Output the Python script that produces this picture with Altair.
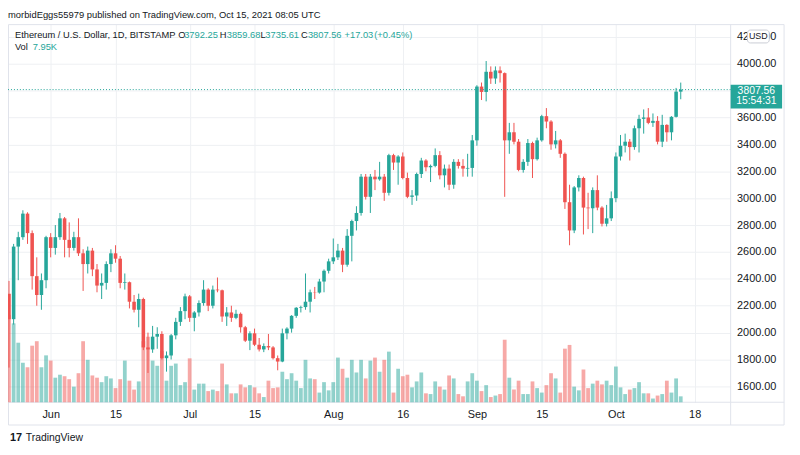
import altair as alt
import pandas as pd

# ---------------- data (ETH/USD daily, Bitstamp) ----------------
dates = pd.date_range("2021-05-23", "2021-10-15", freq="D").strftime("%Y-%m-%d").tolist()

open_may = [2290, 2100, 2640, 2710, 2885, 2740, 2420, 2280, 2390]
high_may = [2385, 2660, 2750, 2910, 2895, 2760, 2560, 2440, 2720]
low_may = [1740, 2060, 2390, 2690, 2660, 2320, 2200, 2170, 2330]
close_may = [2100, 2640, 2710, 2885, 2740, 2420, 2280, 2390, 2710]
vol_may = [117, 106, 80, 53, 47, 76, 82, 47, 63]

open_jun = [2710, 2630, 2710, 2850, 2690, 2630, 2710, 2590, 2510, 2610, 2470, 2350, 2370, 2510, 2590,
            2550, 2370, 2375, 2230, 2170, 2250, 1890, 1875, 1970, 1990, 1810, 1830, 1980, 2080, 2160]
high_jun = [2740, 2800, 2890, 2860, 2820, 2750, 2850, 2620, 2640, 2630, 2510, 2440, 2530, 2620, 2650,
            2570, 2440, 2380, 2280, 2290, 2260, 2000, 2050, 2040, 2010, 1860, 1990, 2110, 2190, 2290]
low_jun = [2560, 2580, 2690, 2560, 2560, 2610, 2570, 2310, 2440, 2420, 2300, 2250, 2320, 2450, 2520,
           2330, 2320, 2180, 2150, 2040, 1870, 1700, 1850, 1880, 1800, 1710, 1800, 1950, 2050, 2100]
close_jun = [2630, 2710, 2850, 2690, 2630, 2710, 2590, 2510, 2610, 2470, 2350, 2370, 2510, 2590, 2550,
             2370, 2375, 2230, 2170, 2250, 1890, 1875, 1970, 1990, 1810, 1830, 1980, 2080, 2160, 2270]
vol_jun = [56, 33, 37, 35, 31, 21, 39, 82, 57, 36, 33, 27, 35, 32, 19,
           31, 56, 29, 17, 28, 82, 88, 56, 49, 69, 29, 49, 52, 23, 27]

open_jul = [2270, 2110, 2150, 2220, 2320, 2200, 2320, 2315, 2120, 2150, 2110, 2140, 2040, 1940, 1995, 1910,
            1875, 1900, 1890, 1810, 1785, 1995, 2030, 2125, 2185, 2190, 2230, 2300, 2298, 2380, 2460]
high_jul = [2280, 2160, 2240, 2390, 2330, 2350, 2410, 2320, 2190, 2200, 2170, 2150, 2050, 2010, 2030, 1960,
            1920, 1990, 1900, 1830, 2030, 2040, 2130, 2190, 2200, 2440, 2320, 2340, 2400, 2470, 2550]
low_jul = [2080, 2010, 2120, 2200, 2160, 2180, 2300, 2080, 2050, 2080, 2100, 2000, 1930, 1870, 1900, 1860,
           1855, 1870, 1800, 1720, 1780, 1950, 2000, 2110, 2150, 2170, 2150, 2250, 2290, 2300, 2440]
close_jul = [2110, 2150, 2220, 2320, 2200, 2320, 2315, 2120, 2150, 2110, 2140, 2040, 1940, 1995, 1910, 1875,
             1900, 1890, 1810, 1785, 1995, 2030, 2125, 2185, 2190, 2230, 2300, 2298, 2380, 2460, 2530]
vol_jul = [59, 17, 25, 25, 15, 17, 15, 52, 24, 12, 12, 24, 20, 23, 20, 12,
           7, 29, 19, 20, 41, 31, 39, 29, 19, 57, 32, 31, 13, 27, 16]

open_aug = [2530, 2560, 2610, 2505, 2720, 2830, 2890, 3160, 3010, 3160, 3140, 3160, 3040, 3320, 3265, 3310,
            3150, 3010, 3020, 3180, 3280, 3230, 3240, 3320, 3170, 3220, 3100, 3270, 3240, 3220, 3225]
high_aug = [2700, 2660, 2630, 2770, 2840, 2940, 3180, 3180, 3180, 3210, 3270, 3180, 3330, 3330, 3320, 3340,
            3190, 3060, 3190, 3300, 3290, 3250, 3370, 3350, 3250, 3250, 3290, 3290, 3290, 3330, 3470]
low_aug = [2510, 2540, 2450, 2490, 2530, 2760, 2870, 2990, 2890, 3060, 3130, 2980, 3020, 3210, 3100, 3140,
           3000, 2950, 2980, 3150, 3200, 3120, 3230, 3140, 3080, 3060, 3070, 3220, 3160, 3160, 3160]
close_aug = [2560, 2610, 2505, 2720, 2830, 2890, 3160, 3010, 3160, 3140, 3160, 3040, 3320, 3265, 3310, 3150,
             3010, 3020, 3180, 3280, 3230, 3240, 3320, 3170, 3220, 3100, 3270, 3240, 3220, 3225, 3430]
vol_aug = [27, 60, 45, 33, 57, 40, 57, 32, 56, 60, 41, 57, 68, 13, 45, 35,
           37, 20, 28, 40, 12, 11, 28, 21, 17, 36, 32, 11, 8, 28, 39]

open_sep = [3430, 3830, 3790, 3940, 3890, 3950, 3930, 3430, 3490, 3420, 3210, 3270, 3410, 3290, 3430,
            3610, 3570, 3400, 3430, 3330, 2970, 2760, 3080, 3150, 2930, 2925, 3060, 2930, 2810, 2850]
high_sep = [3840, 3860, 4020, 3980, 3980, 3980, 3935, 3560, 3560, 3440, 3290, 3440, 3420, 3450, 3620,
            3670, 3580, 3500, 3440, 3340, 3100, 3090, 3170, 3160, 3040, 3080, 3170, 2940, 2950, 3050]
low_sep = [3390, 3730, 3720, 3850, 3850, 3860, 3010, 3330, 3400, 3200, 3190, 3240, 3150, 3280, 3420,
           3520, 3360, 3370, 3300, 2920, 2650, 2740, 3050, 2730, 2770, 2740, 2910, 2790, 2790, 2830]
close_sep = [3830, 3790, 3940, 3890, 3950, 3930, 3430, 3490, 3420, 3210, 3270, 3410, 3290, 3430, 3610,
             3570, 3400, 3430, 3330, 2970, 2760, 3080, 3150, 2930, 2925, 3060, 2930, 2810, 2850, 3000]
vol_sep = [29, 15, 23, 7, 9, 11, 84, 33, 17, 29, 11, 11, 28, 19, 13,
           23, 39, 32, 13, 72, 77, 21, 16, 44, 19, 25, 29, 24, 29, 23]

open_oct = [3000, 3310, 3390, 3420, 3380, 3520, 3590, 3600, 3560, 3575, 3420, 3545, 3490, 3605, 3792.25]
high_oct = [3340, 3470, 3480, 3440, 3540, 3620, 3660, 3670, 3630, 3610, 3620, 3550, 3610, 3820, 3859.68]
low_oct = [2970, 3280, 3340, 3280, 3360, 3340, 3480, 3550, 3530, 3400, 3380, 3420, 3430, 3600, 3735.61]
close_oct = [3310, 3390, 3420, 3380, 3520, 3590, 3600, 3560, 3575, 3420, 3545, 3490, 3605, 3792.25, 3807.56]
vol_oct = [48, 20, 11, 17, 19, 27, 12, 12, 5, 9, 11, 29, 13, 32, 7.95]

price_ticks = [1600, 1800, 2000, 2200, 2400, 2600, 2800, 3000, 3200, 3400, 3600, 3800, 4000, 4200]
date_ticks = ["2021-06-01", "2021-06-15", "2021-07-01", "2021-07-15", "2021-08-01",
              "2021-08-16", "2021-09-01", "2021-09-15", "2021-10-01", "2021-10-18"]

opens = open_may + open_jun + open_jul + open_aug + open_sep + open_oct
highs = high_may + high_jun + high_jul + high_aug + high_sep + high_oct
lows = low_may + low_jun + low_jul + low_aug + low_sep + low_oct
closes = close_may + close_jun + close_jul + close_aug + close_sep + close_oct
vols = vol_may + vol_jun + vol_jul + vol_aug + vol_sep + vol_oct

n = min(len(dates), len(opens), len(highs), len(lows), len(closes), len(vols))
df = pd.DataFrame({
    "date": dates[:n], "open": opens[:n], "high": highs[:n], "low": lows[:n],
    "close": closes[:n], "volume": vols[:n],
})
df["dir"] = ["up" if c >= o else "down" for o, c in zip(df["open"], df["close"])]
last = df.tail(1)

# ---------------- styling ----------------
UP, DOWN = "#26a69a", "#ef5350"
TXT = "#131722"
GRID = "#eef0f3"
FRAME = "#e0e3eb"
FONT = "Liberation Sans"
W, H = 730, 382
PX_PER_DAY = 4.68
DAY = 86400000

t0 = int(pd.Timestamp("2021-05-23", tz="UTC").value // 10**6)
x_start = t0 - int(0.214 * DAY)
x_end = x_start + int(W / PX_PER_DAY * DAY)
tick_ms = [int(pd.Timestamp(d, tz="UTC").value // 10**6) for d in date_ticks]

x_enc = alt.X(
    "date:T",
    scale=alt.Scale(type="utc", domain=[x_start, x_end], range=[0, W], nice=False, padding=0),
    axis=alt.Axis(values=tick_ms, title=None, grid=True, gridColor=GRID, ticks=False,
                  domain=False, labelPadding=6, labelFontSize=11, labelColor=TXT,
                  labelFont=FONT, labelOverlap=False, labelFlush=False,
                  labelExpr="utcdate(datum.value) == 1 ? utcFormat(datum.value, '%b') : utcFormat(datum.value, '%d')"),
)


def price_y(field):
    return alt.Y(
        f"{field}:Q",
        scale=alt.Scale(domain=[1482.2, 4294.5], range=[H, 0], nice=False, zero=False, padding=0),
        axis=alt.Axis(orient="right", values=price_ticks, format=".2f", title=None, grid=True,
                      gridColor=GRID, ticks=False, domain=False, labelPadding=6,
                      labelFontSize=11, labelColor=TXT, labelFont=FONT),
    )


color_enc = alt.Color("dir:N", scale=alt.Scale(domain=["up", "down"], range=[UP, DOWN]), legend=None)

base = alt.Chart(df)

volume = base.mark_bar(size=3.8, opacity=0.5).encode(
    x=x_enc,
    y=alt.Y("volume:Q", scale=alt.Scale(domain=[0, 508], range=[H, 0], nice=False, padding=0), axis=None),
    color=color_enc,
)

wicks = base.mark_rule(strokeWidth=1).encode(x=x_enc, y=price_y("low"), y2="high", color=color_enc)
bodies = base.mark_bar(size=3.6).encode(x=x_enc, y=price_y("open"), y2="close", color=color_enc)

last_chart = alt.Chart(last)
price_line = last_chart.mark_rule(color=UP, strokeDash=[1, 2], strokeWidth=1).encode(y=price_y("close"))
price_box = last_chart.mark_rect(color=UP, yOffset=-5, y2Offset=19).encode(
    x=alt.value(730), x2=alt.value(782), y=price_y("close"), y2="close")
price_txt = last_chart.mark_text(color="white", fontSize=10.5, font=FONT, dy=1).encode(
    x=alt.value(756), y=price_y("close"), text=alt.Text("close:Q", format=".2f"))
time_txt = last_chart.mark_text(color="white", fontSize=10.5, font=FONT, dy=12, text="15:54:31").encode(
    x=alt.value(756), y=price_y("close"))

price_layer = alt.layer(wicks, bodies, price_line, price_box, price_txt, time_txt)

one = alt.Chart(pd.DataFrame({"k": [0]}))


def label(text, x, y, color=TXT, size=9.4, weight="normal"):
    return one.mark_text(text=text, align="left", baseline="middle", color=color,
                         fontSize=size, font=FONT, fontWeight=weight).encode(
        x=alt.value(x), y=alt.value(y))


frame = one.mark_rect(filled=False, color=FRAME, strokeWidth=1).encode(
    x=alt.value(0.5), x2=alt.value(784), y=alt.value(0.5), y2=alt.value(405))
vsep = one.mark_rule(color=FRAME, strokeWidth=1).encode(
    x=alt.value(730), y=alt.value(0), y2=alt.value(405))
hsep = one.mark_rule(color=FRAME, strokeWidth=1).encode(
    x=alt.value(0), x2=alt.value(784), y=alt.value(382))
usd_box = one.mark_rect(color="white", stroke="#c9ccd4", strokeWidth=1, cornerRadius=3).encode(
    x=alt.value(747), x2=alt.value(769), y=alt.value(6), y2=alt.value(19))
usd_txt = one.mark_text(text="USD", align="center", baseline="middle", color=TXT, fontSize=9,
                        font=FONT).encode(x=alt.value(758), y=alt.value(12.5))

texts = [
    label("morbidEggs55979 published on TradingView.com, Oct 15, 2021 08:05 UTC", 0, -9, size=9.5),
    label("Ethereum / U.S. Dollar, 1D, BITSTAMP", 7, 11),
    label("O", 172, 11), label("3792.25", 178, 11, UP),
    label("H", 214, 11), label("3859.68", 221, 11, UP),
    label("L", 255, 11), label("3735.61", 260, 11, UP),
    label("C", 296, 11), label("3807.56", 303, 11, UP),
    label("+17.03", 340, 11, UP), label("(+0.45%)", 370, 11, UP),
    label("Vol", 7, 23), label("7.95K", 25, 23, UP),
    label("17", 2, 418, size=11, weight="bold"),
    label("TradingView", 18, 418, size=10.5),
]

chart = alt.layer(
    frame, vsep, hsep, volume, price_layer, usd_box, usd_txt, *texts
).resolve_scale(y="independent").properties(
    width=W, height=H,
    autosize=alt.AutoSizeParams(type="none"),
    padding={"left": 0, "top": 14, "right": 62, "bottom": 51},
    background="white",
).configure_view(strokeWidth=0)

chart.save("out.html", embed_options={"renderer": "svg", "actions": False})
